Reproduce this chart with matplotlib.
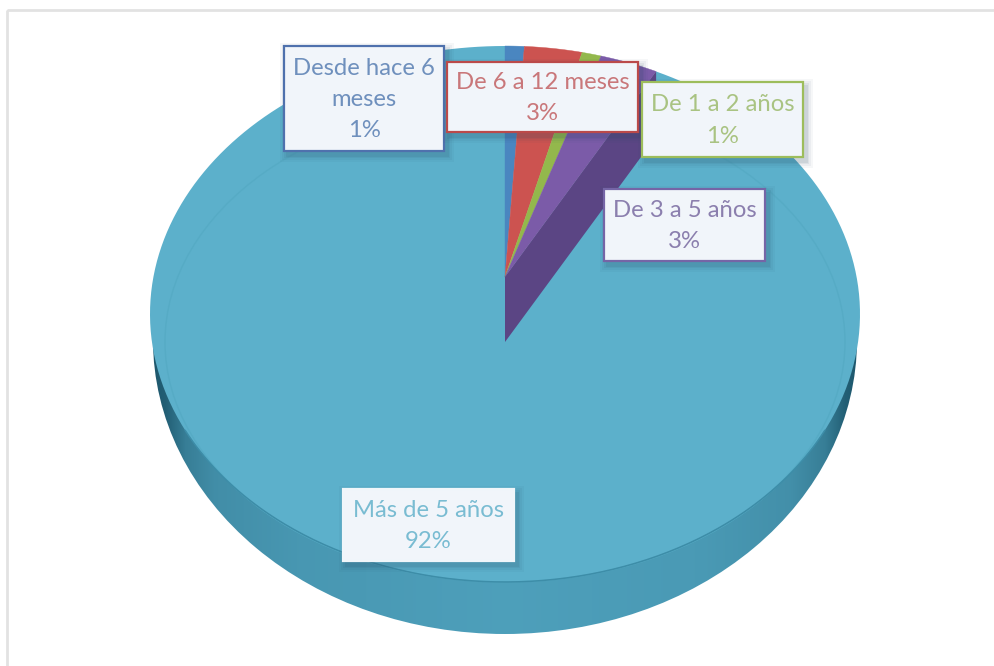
import numpy as np
import matplotlib
matplotlib.use("Agg")
import matplotlib.pyplot as plt
from matplotlib.patches import Ellipse, Polygon, Rectangle

# Survey shares, in percent, clockwise from twelve o'clock
categories = ["Desde hace 6\nmeses", "De 6 a 12 meses", "De 1 a 2 años", "De 3 a 5 años", "Más de 5 años"]
shares = [1, 3, 1, 3, 92]
share_labels = ["1%", "3%", "1%", "3%", "92%"]

slice_colors = ["#4a86c0", "#cc5350", "#93b84c", "#7b5ba8", "#5cb0cb"]
text_colors = ["#6f90bd", "#c9777a", "#a9c382", "#8b7fae", "#79bcd2"]
box_edges = ["#4f71ad", "#bb4a4a", "#9dbd5b", "#7565a6", "#f0f6fa"]
# left, top, right, bottom of each label box, in pixels
label_boxes = [(284, 46, 444, 151), (447, 62, 638, 132), (642, 82, 803, 157),
               (604, 189, 765, 261), (343, 489, 514, 561)]

plt.rcParams["font.family"] = ["Lato", "DejaVu Sans"]
fig = plt.figure(figsize=(9.95, 6.66), dpi=100)
ax = fig.add_axes([0, 0, 1, 1])
ax.set_xlim(0, 995)
ax.set_ylim(666, 0)
ax.axis("off")

# Outer chart frame: only the top and left edges fall inside the canvas
ax.add_patch(Rectangle((7, 10), 1200, 1000, fill=False, ec="#e2e2e2", lw=2.0, zorder=1))

CX, TOP, APEX_Y, BOTTOM = 505, 46, 277, 582
WIDTH = 355
DEPTH = 65
far, near = APEX_Y - TOP, BOTTOM - APEX_Y
B = (near - far) / (near + far)
A = far * (1 + B)
C = WIDTH * np.sqrt(1 - B ** 2)


def project(fraction):
    """Perspective view of a point on the rim, given its cumulative share."""
    t = 2 * np.pi * np.asarray(fraction)
    u, v = np.sin(t), np.cos(t)
    w = 1 + B * v
    return CX + C * u / w, APEX_Y - A * v / w


def wedge(start, stop):
    t = np.linspace(start, stop, 200)
    x, y = project(t)
    return np.column_stack([np.r_[CX, x], np.r_[APEX_Y, y]])


# Side wall of the disc, shaded darker towards both ends
xs = np.array([150, 165, 185, 215, 300, 505, 700, 790, 825, 845, 860])
dark = np.array([0.0, 0.12, 0.5, 0.7, 0.82, 0.92, 0.85, 0.72, 0.5, 0.12, 0.0])
lo, hi = np.array([0x1c, 0x55, 0x6a]), np.array([0x52, 0xa6, 0xc2])
ramp = np.interp(np.arange(150, 861), xs, dark)[None, :, None]
shade = (lo + (hi - lo) * ramp) / 255
wall_img = ax.imshow(shade, extent=(150, 861, 640, 300), aspect="auto", zorder=2, interpolation="bilinear")
wall_clip = Ellipse((505, 340), 704, 588, transform=ax.transData)
wall_img.set_clip_path(wall_clip)
ax.set_xlim(0, 995)
ax.set_ylim(666, 0)

# Top face, slice by slice
fractions = np.cumsum([0] + shares) / sum(shares)
ax.add_patch(Polygon(wedge(fractions[4], fractions[5]), fc=slice_colors[4], ec="none", zorder=3))
for i in range(4):
    ax.add_patch(Polygon(wedge(fractions[i], fractions[i + 1]), fc=slice_colors[i],
                         ec=slice_colors[i], lw=0.3, zorder=4))

# Cut face between the purple slice and the large slice
end_x, end_y = project(fractions[4])
ax.add_patch(Polygon([(CX, APEX_Y), (CX, APEX_Y + DEPTH), (end_x, end_y + DEPTH), (end_x, end_y)],
                     fc="#5b4584", ec="none", zorder=5))

# Bevel ring on the top face and the darker line along its front edge
ax.add_patch(Ellipse((505, 342), 680, 480, fill=False, ec="#56abc5", lw=1.0, zorder=3.5))
ax.plot(*np.array([(505 + 355 * np.cos(a), 314 + 268 * np.sin(a))
                   for a in np.linspace(0.45, np.pi - 0.45, 200)]).T,
        color="#3d8da8", lw=1.1, zorder=3.6)

# Data labels
for i, (l, t, r, b) in enumerate(label_boxes):
    for grow, alpha in ((7, 0.04), (5, 0.05), (3, 0.07), (1.5, 0.09)):
        ax.add_patch(Rectangle((l - grow + 3, t - grow + 4), r - l + 2 * grow, b - t + 2 * grow,
                               fc="#27465f", alpha=alpha, ec="none", zorder=6 + i * 0.1))
    ax.add_patch(Rectangle((l, t), r - l, b - t, fc="#f1f5fa", ec=box_edges[i], lw=1.6,
                           zorder=6.05 + i * 0.1))
    ax.text((l + r) / 2, (t + b) / 2 + 1, f"{categories[i]}\n{share_labels[i]}", color=text_colors[i],
            fontsize=17.2, ha="center", va="center", linespacing=1.6, zorder=6.08 + i * 0.1)

fig.savefig("out.png", dpi=100, facecolor="white")
